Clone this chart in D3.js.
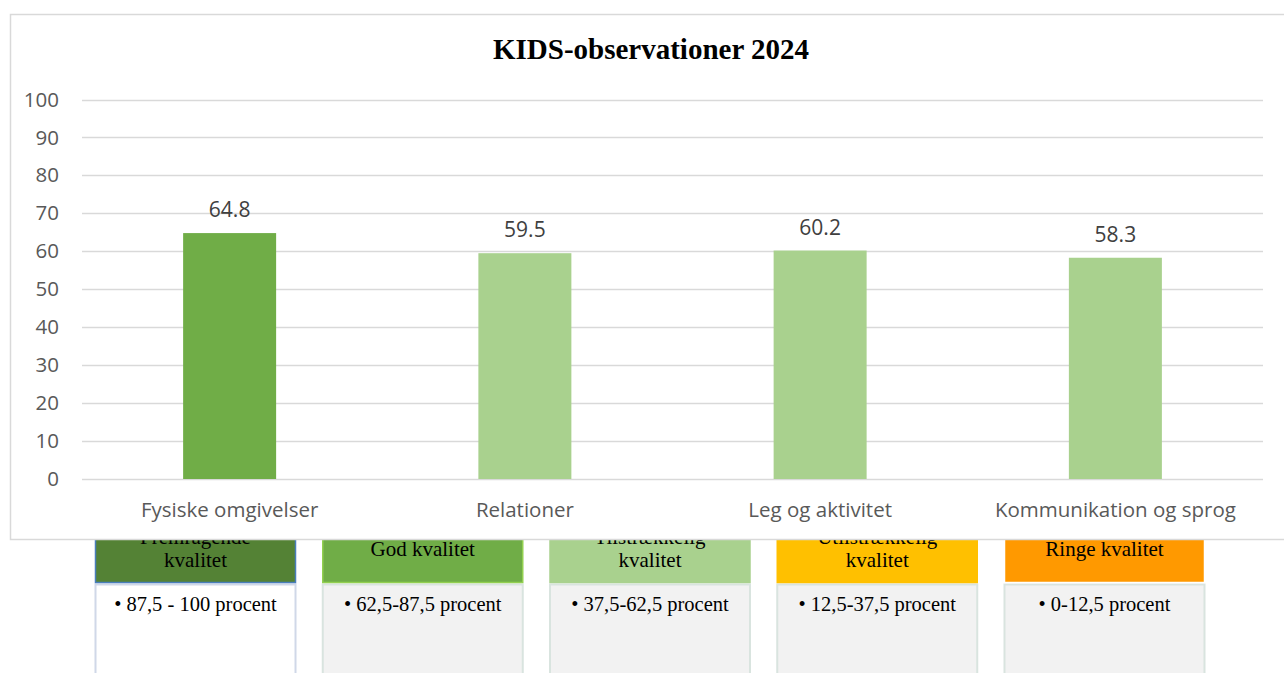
<!DOCTYPE html>
<html>
<head>
<meta charset="utf-8">
<script src="https://cdn.jsdelivr.net/npm/d3@7"></script>
<style>
  body { margin: 0; background: #fff; overflow: hidden; }
</style>
</head>
<body>
<svg id="chart"></svg>
<script>
// Data
const categories = ["Fysiske omgivelser", "Relationer", "Leg og aktivitet", "Kommunikation og sprog"];
const values = [64.8, 59.5, 60.2, 58.3];
const barColors = ["#70ad47", "#a9d18e", "#a9d18e", "#a9d18e"];
const yTicks = [0, 10, 20, 30, 40, 50, 60, 70, 80, 90, 100];

const legendTitles = [
  ["Fremragende", "kvalitet"],
  ["God kvalitet"],
  ["Tilstrækkelig", "kvalitet"],
  ["Utilstrækkelig", "kvalitet"],
  ["Ringe kvalitet"]
];
const legendRanges = ["87,5 - 100 procent", "62,5-87,5 procent", "37,5-62,5 procent", "12,5-37,5 procent", "0-12,5 procent"];
const legendColors = ["#548235", "#70ad47", "#a9d18e", "#ffc000", "#ff9900"];
const legendBorders = ["#4a7ebb", "#92d050", "#a9d18e", "#ffc000", "#ffffff"];

const W = 1284, H = 673;
const sans = "'Open Sans', Lato, sans-serif";
const serif = "'Liberation Serif', 'Times New Roman', serif";
const svg = d3.select("#chart").attr("width", W).attr("height", H);

// Legend boxes (drawn first, chart frame sits on top of them)
const legend = svg.append("g").attr("id", "legend");
const boxX = d3.scaleLinear().domain([0, 4]).range([95, 1004]);
const boxW = 201;

legendColors.forEach((c, i) => {
  const g = legend.append("g").attr("transform", "translate(" + boxX(i) + ",0)");
  // body
  g.append("rect")
    .attr("x", 0.5).attr("y", 584.5)
    .attr("width", boxW - 1).attr("height", 120)
    .attr("fill", i === 0 ? "#ffffff" : "#f2f2f2")
    .attr("stroke", i === 0 ? "#d0d8e8" : "#d9e4df")
    .attr("stroke-width", 2);
  // header
  g.append("rect")
    .attr("x", 0.5).attr("y", 515.5)
    .attr("width", boxW - 1).attr("height", 67)
    .attr("fill", c)
    .attr("stroke", legendBorders[i])
    .attr("stroke-width", 1.5);
  const lines = legendTitles[i];
  const t = g.append("text")
    .attr("text-anchor", "middle")
    .attr("font-family", serif)
    .attr("font-size", 21)
    .attr("fill", "#000");
  lines.forEach((l, j) => {
    t.append("tspan")
      .attr("x", boxW / 2)
      .attr("y", lines.length === 2 ? 544 + j * 23 : 556)
      .text(l);
  });
  g.append("text")
    .attr("x", boxW / 2).attr("y", 611)
    .attr("text-anchor", "middle")
    .attr("font-family", serif)
    .attr("font-size", 20.5)
    .attr("fill", "#000")
    .text("\u2022 " + legendRanges[i]);
});

// Chart frame
svg.append("rect")
  .attr("x", 10.5).attr("y", 14.5)
  .attr("width", 1290).attr("height", 525)
  .attr("fill", "#fff")
  .attr("stroke", "#d9d9d9")
  .attr("stroke-width", 1.5);

const margin = { left: 82, right: 21, top: 99.5, bottom: 479 };

const x = d3.scaleBand()
  .domain(categories)
  .range([margin.left, W - margin.right])
  .paddingInner(0.685)
  .paddingOuter(0.3425);

const y = d3.scaleLinear()
  .domain([0, 100])
  .range([margin.bottom, margin.top]);

// Grid
svg.append("g")
  .attr("id", "grid")
  .selectAll("line")
  .data(yTicks)
  .enter()
  .append("line")
  .attr("x1", margin.left)
  .attr("x2", W - margin.right)
  .attr("y1", (d) => Math.round(y(d)) + 0.5)
  .attr("y2", (d) => Math.round(y(d)) + 0.5)
  .attr("stroke", "#d9d9d9")
  .attr("stroke-width", 1.5);

// Y axis
const yAxis = svg.append("g")
  .attr("id", "y-axis")
  .attr("transform", "translate(59,0)")
  .call(d3.axisLeft(y).tickValues(yTicks).tickSize(0).tickPadding(0));
yAxis.select(".domain").remove();
yAxis.selectAll("text")
  .attr("font-family", sans)
  .attr("font-size", 20.5)
  .attr("fill", "#595959");

// Bars
svg.append("g")
  .selectAll("rect")
  .data(values)
  .enter()
  .append("rect")
  .attr("x", (d, i) => x(categories[i]))
  .attr("y", (d) => y(d))
  .attr("width", x.bandwidth())
  .attr("height", (d) => y(0) - y(d))
  .attr("fill", (d, i) => barColors[i]);

// Value labels
svg.append("g")
  .selectAll("text")
  .data(values)
  .enter()
  .append("text")
  .attr("x", (d, i) => x(categories[i]) + x.bandwidth() / 2)
  .attr("y", (d) => y(d) - 16)
  .attr("text-anchor", "middle")
  .attr("font-family", sans)
  .attr("font-size", 21)
  .attr("fill", "#404040")
  .text((d) => d.toFixed(1));

// X axis
const xAxis = svg.append("g")
  .attr("id", "x-axis")
  .attr("transform", "translate(0," + margin.bottom + ")")
  .call(d3.axisBottom(x).tickSize(0).tickPadding(0));
xAxis.select(".domain").remove();
xAxis.selectAll("text")
  .attr("dy", 0)
  .attr("y", 38)
  .attr("font-family", sans)
  .attr("font-size", 20.5)
  .attr("fill", "#595959");

// Title
svg.append("text")
  .attr("x", 651)
  .attr("y", 59)
  .attr("text-anchor", "middle")
  .attr("font-family", serif)
  .attr("font-weight", "bold")
  .attr("font-size", 29)
  .attr("fill", "#000")
  .text("KIDS-observationer 2024");
</script>
</body>
</html>
